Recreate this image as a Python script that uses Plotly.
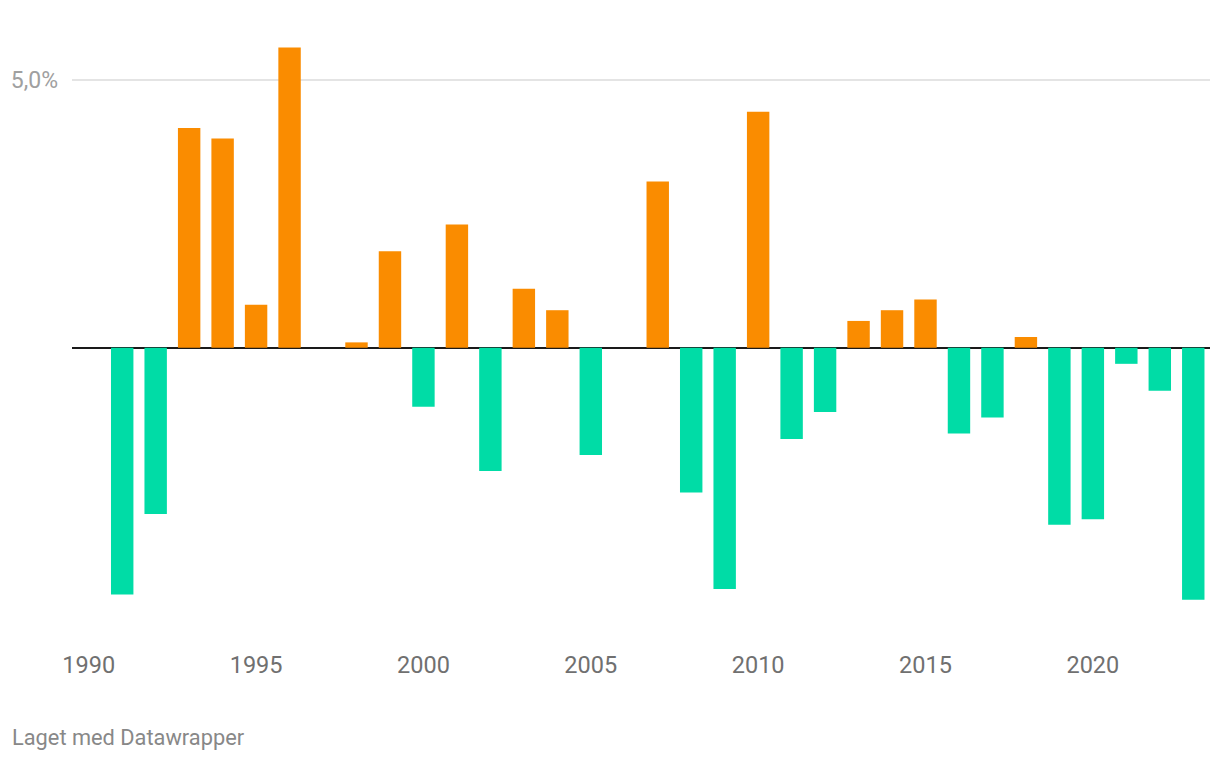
import plotly.graph_objects as go

years = list(range(1990, 2024))
values = [0.0, -4.6, -3.1, 4.1, 3.9, 0.8, 5.6, 0.0, 0.1, 1.8,
          -1.1, 2.3, -2.3, 1.1, 0.7, -2.0, 0.0, 3.1, -2.7, -4.5,
          4.4, -1.7, -1.2, 0.5, 0.7, 0.9, -1.6, -1.3, 0.2, -3.3,
          -3.2, -0.3, -0.8, -4.7]
x_ticks = [1990, 1995, 2000, 2005, 2010, 2015, 2020]
x_ticktext = ["1990", "1995", "2000", "2005", "2010", "2015", "2020"]
y_ticks = [5]
y_ticktext = ["5,0%"]

ORANGE = "#fa8c00"
TEAL = "#00dca6"
colors = [ORANGE if v >= 0 else TEAL for v in values]

W, H = 1220, 760
ML, MR = 72, 10
Y_MIN, Y_MAX = -5.45, 6.0
PX_PER_UNIT = 53.6
MT = 26
plot_h = (Y_MAX - Y_MIN) * PX_PER_UNIT
MB = H - MT - plot_h
plot_w = W - ML - MR

fig = go.Figure()
fig.add_trace(go.Bar(x=years, y=values, marker=dict(color=colors, line=dict(width=0)),
                     hoverinfo="x+y"))

fig.update_layout(
    width=W, height=H,
    margin=dict(l=ML, r=MR, t=MT, b=MB),
    paper_bgcolor="white", plot_bgcolor="white",
    bargap=0.33,
    showlegend=False,
    font=dict(family="Roboto", color="#777"),
    xaxis=dict(range=[1989.5, 2023.5], tickmode="array", tickvals=x_ticks,
               ticktext=x_ticktext, showgrid=False, zeroline=False,
               showline=False, ticks="outside", ticklen=4, tickcolor="rgba(0,0,0,0)",
               tickfont=dict(size=23.5, color="#707070", family="Roboto")),
    yaxis=dict(range=[Y_MIN, Y_MAX], tickmode="array", tickvals=y_ticks,
               ticktext=y_ticktext, showgrid=True, gridcolor="#e4e4e4", gridwidth=1.5,
               zeroline=True, zerolinecolor="#1a1a1a", zerolinewidth=2,
               showline=False, ticks="", ticklabelstandoff=13,
               tickfont=dict(size=23, color="#a0a0a0", family="Roboto")),
    annotations=[dict(text="Laget med Datawrapper",
                      x=(10 - ML) / plot_w, y=(H - MB - 737) / plot_h,
                      xref="paper", yref="paper",
                      showarrow=False, xanchor="left", yanchor="middle",
                      font=dict(size=21.8, color="#888", family="Roboto"))],
)

fig.write_html("out.html")
